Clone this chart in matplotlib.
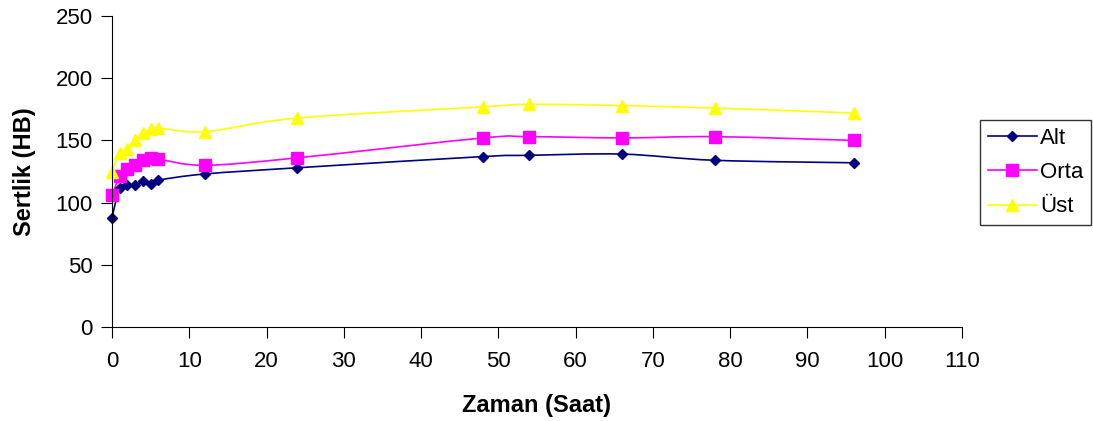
import numpy as np
import matplotlib
matplotlib.use("Agg")
from matplotlib import pyplot as plt
from matplotlib.path import Path
from matplotlib.patches import PathPatch

plt.rcParams["font.family"] = ["Liberation Sans", "DejaVu Sans"]

# hardness (HB) vs time (hours)
hours = [0, 1, 2, 3, 4, 5, 6, 12, 24, 48, 54, 66, 78, 96]
alt = [88, 112, 114, 114, 117, 115, 118, 123, 128, 137, 138, 139, 134, 132]
orta = [106, 121, 127, 130, 134, 136, 135, 130, 136, 152, 153, 152, 153, 150]
ust = [125, 140, 143, 150, 156, 159, 160, 157, 168, 177, 179, 178, 176, 172]

series = [
    ("Alt", alt, "#000080", "D", 5.5),
    ("Orta", orta, "#FF00FF", "s", 8),
    ("Üst", ust, "#FFFF00", "^", 8.5),
]


def smooth_path(x, y):
    # Excel-style smoothed line: Catmull-Rom segments as cubic Bezier curves
    x = np.asarray(x, float)
    y = np.asarray(y, float)
    n = len(x)
    verts = [(x[0], y[0])]
    codes = [Path.MOVETO]
    for i in range(n - 1):
        i0 = max(i - 1, 0)
        i3 = min(i + 2, n - 1)
        c1 = (x[i] + (x[i + 1] - x[i0]) / 6, y[i] + (y[i + 1] - y[i0]) / 6)
        c2 = (x[i + 1] - (x[i3] - x[i]) / 6, y[i + 1] - (y[i3] - y[i]) / 6)
        verts += [c1, c2, (x[i + 1], y[i + 1])]
        codes += [Path.CURVE4] * 3
    return Path(verts, codes)


fig = plt.figure(figsize=(10.93, 4.21), dpi=100)
ax = fig.add_axes([112 / 1093, 94 / 421, 850 / 1093, 311 / 421])

for name, vals, color, marker, ms in series:
    ax.add_patch(PathPatch(smooth_path(hours, vals), facecolor="none",
                           edgecolor=color, linewidth=1.2))
    ax.plot(hours, vals, linestyle="none", marker=marker, markersize=ms,
            color=color, clip_on=False)
    ax.plot([], [], color=color, marker=marker, markersize=ms, label=name,
            linewidth=1.2)

ax.set_xlim(0, 110)
ax.set_ylim(0, 250)
ax.set_xticks(range(0, 111, 10))
ax.set_yticks(range(0, 251, 50))
ax.spines["top"].set_visible(False)
ax.spines["right"].set_visible(False)
ax.tick_params(direction="out", length=8, labelsize=16, pad=6)
ax.tick_params(axis="x", pad=9)
ax.set_xlabel("Zaman (Saat)", fontsize=17, fontweight="bold", labelpad=16)
ax.set_ylabel("Sertlik (HB)", fontsize=17, fontweight="bold", labelpad=14)

leg = ax.legend(loc="upper left", bbox_to_anchor=(980 / 1093, 1 - 120 / 421),
                bbox_transform=fig.transFigure, fontsize=16, frameon=True,
                fancybox=False, edgecolor="black", handlelength=2.2,
                borderpad=0.35, labelspacing=0.6, handletextpad=0.15,
                borderaxespad=0)
leg.get_frame().set_linewidth(1.0)

fig.savefig("out.png", dpi=100)
